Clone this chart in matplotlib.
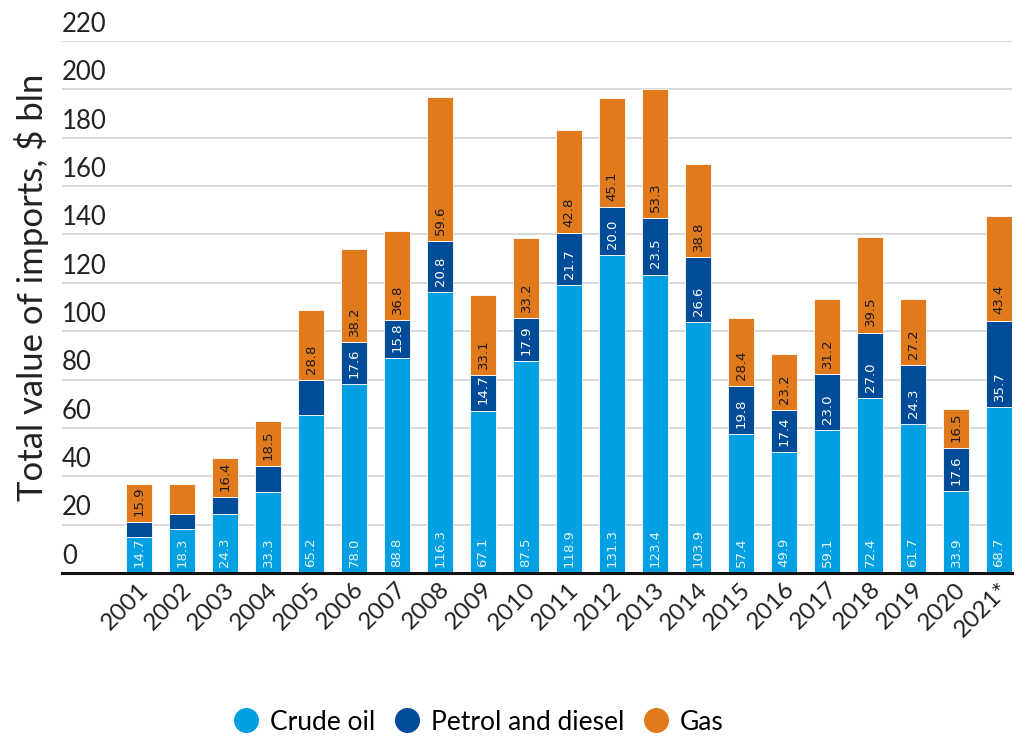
import matplotlib
matplotlib.use("Agg")
import matplotlib.pyplot as plt
import matplotlib.transforms as mtransforms
from matplotlib.lines import Line2D
import numpy as np

years = ["2001", "2002", "2003", "2004", "2005", "2006", "2007", "2008", "2009", "2010",
         "2011", "2012", "2013", "2014", "2015", "2016", "2017", "2018", "2019", "2020", "2021*"]
crude = [14.7, 18.3, 24.3, 33.3, 65.2, 78.0, 88.8, 116.3, 67.1, 87.5,
         118.9, 131.3, 123.4, 103.9, 57.4, 49.9, 59.1, 72.4, 61.7, 33.9, 68.7]
petrol = [6.2, 6.0, 7.0, 10.9, 14.6, 17.6, 15.8, 20.8, 14.7, 17.9,
          21.7, 20.0, 23.5, 26.6, 19.8, 17.4, 23.0, 27.0, 24.3, 17.6, 35.7]
gas = [15.9, 12.3, 16.4, 18.5, 28.8, 38.2, 36.8, 59.6, 33.1, 33.2,
       42.8, 45.1, 53.3, 38.8, 28.4, 23.2, 31.2, 39.5, 27.2, 16.5, 43.4]
series_names = ["Crude oil", "Petrol and diesel", "Gas"]
yticks = [0, 20, 40, 60, 80, 100, 120, 140, 160, 180, 200, 220]

colors = ["#00A0E3", "#004C99", "#E07A1C"]
label_colors = ["#e8f6fd", "#ffffff", "#1a1a1a"]
min_label = 14.65

plt.rcParams['font.family'] = ['Lato', 'DejaVu Sans']

fig = plt.figure(figsize=(10.2, 7.4), dpi=100)
ax = fig.add_axes([62/1020, (740-573)/740, (1012-62)/1020, (573-41)/740])

x = np.arange(len(years))
width = 0.605
bottoms = np.zeros(len(years))
for vals, col, lcol in zip([crude, petrol, gas], colors, label_colors):
    vals = np.array(vals)
    ax.bar(x, vals, width, bottom=bottoms, color=col, edgecolor="#ffffff",
           linewidth=0.6, zorder=3)
    for xi, b, v in zip(x, bottoms, vals):
        if v >= min_label:
            ax.annotate(f"{v:.1f}", xy=(xi, b), xytext=(0, 4.5), textcoords="offset points",
                        ha="center", va="bottom", rotation=90, fontsize=9.5,
                        family="DejaVu Sans", color=lcol, zorder=4)
    bottoms = bottoms + vals

ax.set_xlim(-1.79, 20.30)
ax.set_ylim(0, 220)
ax.set_yticks(yticks)
ax.yaxis.grid(True, color="#d3d3d3", linewidth=1.2, zorder=0)
ax.set_yticklabels([])
ax.tick_params(axis="y", length=0)
for t in yticks:
    ax.annotate(str(t), xy=(-1.79, t), xytext=(0, 3), textcoords="offset points",
                ha="left", va="bottom", fontsize=18.5, color="#222222")

ax.set_xticks(x)
ax.set_xticklabels(years, rotation=45, ha="right", va="top", fontsize=17.5, color="#222222")
ax.tick_params(axis="x", length=0, pad=4)
offset = mtransforms.ScaledTranslation(0.14, 0, fig.dpi_scale_trans)
for lbl in ax.get_xticklabels():
    lbl.set_transform(lbl.get_transform() + offset)

for s in ["top", "right", "left"]:
    ax.spines[s].set_visible(False)
ax.spines["bottom"].set_linewidth(2.2)
ax.spines["bottom"].set_color("#111111")
ax.spines["bottom"].set_zorder(5)

fig.text(32/1020, 1 - 287/740, "Total value of imports, $ bln", rotation=90,
         ha="center", va="center", fontsize=25, color="#222222")

handles = [Line2D([0], [0], marker="o", linestyle="none", markersize=17,
                  markerfacecolor=c, markeredgecolor=c) for c in colors]
fig.legend(handles, series_names, loc="center", bbox_to_anchor=(477/1020, 1 - 722/740),
           ncol=3, frameon=False, fontsize=19, handletextpad=0.3, columnspacing=0.6,
           handlelength=1.2)

fig.savefig("out.png", dpi=100)
